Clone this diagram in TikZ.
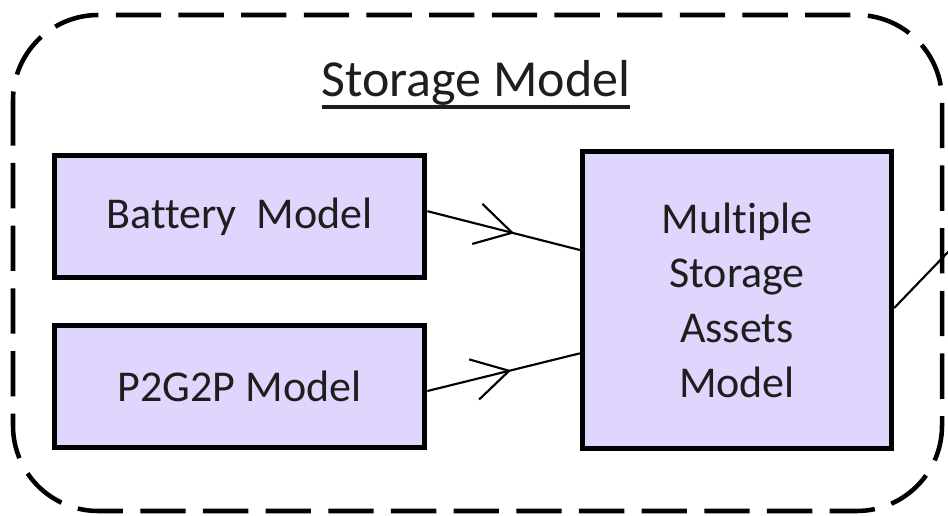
\documentclass[tikz,border=0pt]{standalone}
\usepackage{fontspec}
\setmainfont{Carlito}[Ligatures=NoCommon]
\usetikzlibrary{arrows.meta,decorations.markings}
\definecolor{boxfill}{RGB}{224,213,252}
\definecolor{inktext}{RGB}{30,30,30}
% underlined heading text with a heavier rule
\newcommand\headrule[1]{\setbox0\hbox{#1}\rlap{\rule[-9pt]{\wd0}{2.7pt}}\box0}
\tikzset{
  px/.style={x=0.75pt,y=-0.75pt},
  modelbox/.style={draw=black,line width=3.75pt,fill=boxfill,rectangle,
    text=inktext,font=\fontsize{33}{41}\selectfont,align=center,inner sep=0pt},
  frame/.style={draw=black,line width=3.4pt,dash pattern=on 34pt off 13pt,
    rounded corners=64pt},
  feed/.style={draw=black,line width=1.6pt},
  midarrow/.style={feed,postaction={decorate},decoration={markings,
    mark=at position #1 with {\arrow{Straight Barb[length=27pt,width=31pt,line width=1.6pt]}}}}
}
\begin{document}
\begin{tikzpicture}[px]
  \useasboundingbox (0,0) rectangle (948,516);
  % outer dashed enclosure
  \draw[frame] (13,15) rectangle (942,511);
  % heading
  \node[text=inktext,font=\fontsize{39}{46}\selectfont,anchor=base,inner sep=0pt] (title) at (476,97) {\headrule{Storage Model}};
  % model blocks
  \node[modelbox,minimum width=278pt,minimum height=91pt] (battery) at (239.5,216.5) {Battery\hspace{0.45em}Model};
  \node[modelbox,minimum width=278pt,minimum height=92pt] (p2g) at (239.5,386.5) {P2G2P Model};
  \node[modelbox,minimum width=232pt,minimum height=222pt] (multi) at (737,300) {Multiple\\Storage\\Assets\\Model};
  % links
  \coordinate (b1) at ([yshift=4pt]battery.east);
  \coordinate (m1) at ([yshift=37.5pt]multi.west);
  \coordinate (b2) at ([yshift=-3.4pt]p2g.east);
  \coordinate (m2) at ([yshift=-40pt]multi.west);
  \draw[midarrow=0.57] (b1) -- (m1);
  \draw[midarrow=0.55] (b2) -- (m2);
  \coordinate (out) at (950,250);
  \draw[feed] ([yshift=-6pt]multi.east) -- (out);
\end{tikzpicture}
\end{document}
